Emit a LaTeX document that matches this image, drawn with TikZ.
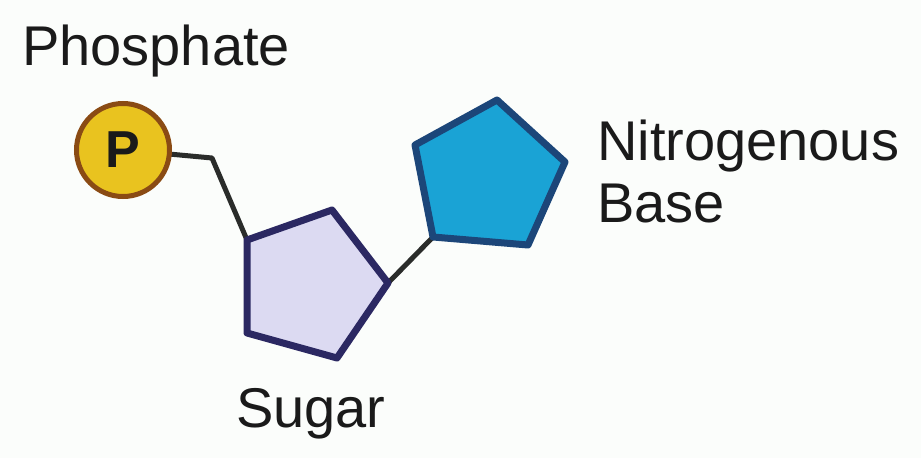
\documentclass[tikz,border=0pt]{standalone}
\usepackage{fontspec}
\setmainfont{Liberation Sans}
\usetikzlibrary{backgrounds}
\definecolor{bgc}{HTML}{FBFDFB}
\definecolor{txt}{HTML}{1A1A1A}
\definecolor{phfill}{HTML}{E9C31F}
\definecolor{phline}{HTML}{8A4B14}
\definecolor{sgfill}{HTML}{DCDAF2}
\definecolor{sgline}{HTML}{2B2862}
\definecolor{bsfill}{HTML}{1AA3D5}
\definecolor{bsline}{HTML}{1C4679}
\definecolor{link}{HTML}{2A2C2A}
\begin{document}
\begin{tikzpicture}[x=1pt,y=-1pt,
  label/.style={font=\fontsize{56}{62}\selectfont, text=txt, inner sep=0pt, anchor=base west, align=left},
  bond/.style={draw=link, line width=5pt, line join=round},
  ring/.style={line width=7pt, line join=round}]
\useasboundingbox (0,0) rectangle (921,458);
% coordinates
\coordinate (s1) at (247,240);
\coordinate (s2) at (332,210);
\coordinate (s3) at (388,283);
\coordinate (s4) at (337,358);
\coordinate (s5) at (247,333);
\coordinate (b1) at (415,145);
\coordinate (b2) at (497,100);
\coordinate (b3) at (565,162);
\coordinate (b4) at (528,245);
\coordinate (b5) at (433,237);
\coordinate (bend) at (212,158);
\node[circle, minimum size=93pt, inner sep=0pt, fill=phfill, draw=phline, line width=5pt] (phos) at (123,150) {};
\node[font=\fontsize{52}{52}\selectfont\bfseries, text=txt, inner sep=0pt] (plet) at (phos.center) {P};
% bonds
\begin{pgfonlayer}{background}
\fill[bgc] (0,0) rectangle (921,458);
\draw[bond] (phos.center) -- (phos.-5) -- (bend) -- (s1);
\draw[bond] (s3) -- (b5);
\end{pgfonlayer}
% rings
\draw[ring, fill=sgfill, draw=sgline] (s1) -- (s2) -- (s3) -- (s4) -- (s5) -- cycle;
\draw[ring, fill=bsfill, draw=bsline] (b1) -- (b2) -- (b3) -- (b4) -- (b5) -- cycle;
% labels
\node[label] (tphos) at (22,65) {Phosphate};
\node[label] (tbase) at (597,160) {Nitrogenous};
\node[label] (tbase2) at (597,222) {Base};
\node[label] (tsug) at (236,427) {Sugar};
\end{tikzpicture}
\end{document}
